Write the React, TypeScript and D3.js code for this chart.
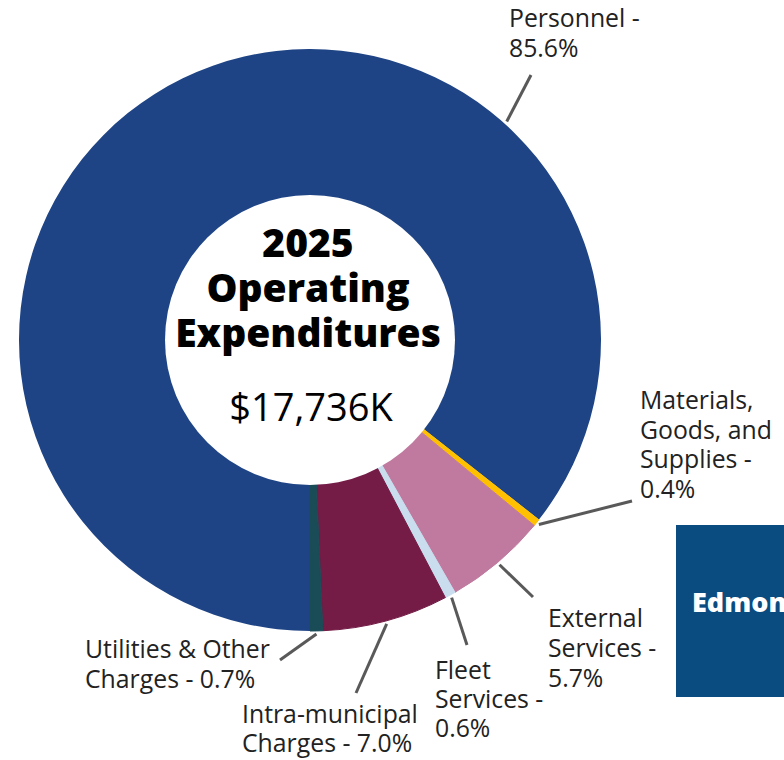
import React from "react";
import * as d3 from "d3";

const categories = [
  "Personnel",
  "Materials, Goods, and Supplies",
  "External Services",
  "Fleet Services",
  "Intra-municipal Charges",
  "Utilities & Other Charges",
];
const shares = [85.6, 0.4, 5.7, 0.6, 7.0, 0.7];
const labelLines = [
  ["Personnel -", "85.6%"],
  ["Materials,", "Goods, and", "Supplies -", "0.4%"],
  ["External", "Services -", "5.7%"],
  ["Fleet", "Services -", "0.6%"],
  ["Intra-municipal", "Charges - 7.0%"],
  ["Utilities & Other", "Charges - 0.7%"],
];
const colors = ["#1E4485", "#FFC000", "#C07A9F", "#C9DDEF", "#741B46", "#1A4C57"];
const titleLines = ["2025", "Operating", "Expenditures"];
const totalLabel = "$17,736K";

// layout (label text anchor, leader end, optional leader angle override in degrees)
const layout = [
  { x: 509, y: 27, lh: 30, ex: 531, ey: 75, angle: 42 },
  { x: 640, y: 409, lh: 29.5, ex: 632, ey: 501, angle: null },
  { x: 548, y: 627, lh: 30, ex: 533, ey: 597, angle: null },
  { x: 435, y: 679, lh: 29, ex: 467, ey: 645, angle: null },
  { x: 242, y: 723, lh: 29, ex: 356, ey: 693, angle: null },
  { x: 85, y: 658, lh: 30, ex: 280, ey: 660, angle: null },
];

const W = 784;
const H = 760;
const cx = 310;
const cy = 340;
const R = 291;
const r0 = 145;

export default function App() {
  const pie = d3
    .pie<number>()
    .sort(null)
    .startAngle(Math.PI)
    .endAngle(3 * Math.PI)
    .value((d) => d);
  const arcs = pie(shares);
  const arc = d3.arc<d3.PieArcDatum<number>>().innerRadius(r0 - 1).outerRadius(R);
  const font = "'Open Sans', 'Noto Sans', sans-serif";

  return (
    <svg
      width={W}
      height={H}
      style={{ position: "absolute", left: 0, top: 0, background: "#fff" }}
      fontFamily={font}
    >
      <defs>
        <clipPath id="logoClip">
          <rect x={676} y={525} width={108} height={172} />
        </clipPath>
      </defs>
      <g transform={`translate(${cx},${cy})`}>
        {arcs.map((a, i) => (
          <path
            key={categories[i]}
            d={arc(a) || ""}
            fill={colors[i]}
            stroke={i === 0 ? "none" : colors[i]}
            strokeWidth={1}
          />
        ))}
        <circle r={r0} fill="#fff" />
      </g>
      {arcs.map((a, i) => {
        const L = layout[i];
        const ang = L.angle != null ? (L.angle * Math.PI) / 180 : (a.startAngle + a.endAngle) / 2;
        const sx = cx + (R + 3) * Math.sin(ang);
        const sy = cy - (R + 3) * Math.cos(ang);
        return (
          <g key={"lbl" + i}>
            <line x1={sx} y1={sy} x2={L.ex} y2={L.ey} stroke="#595959" strokeWidth={3} />
            <text x={L.x} y={L.y} fontSize={24.8} fill="#222">
              {labelLines[i].map((t, j) => (
                <tspan key={j} x={L.x} y={L.y + j * L.lh}>
                  {t}
                </tspan>
              ))}
            </text>
          </g>
        );
      })}
      <g textAnchor="middle" fill="#000">
        {titleLines.map((t, i) => (
          <text key={t} x={308} y={257 + i * 45} fontSize={39} fontWeight={800}>
            {t}
          </text>
        ))}
        <text x={311} y={421} fontSize={38} fontWeight={400}>
          {totalLabel}
        </text>
      </g>
      <g clipPath="url(#logoClip)">
        <rect x={676} y={525} width={120} height={172} fill="#0A4B80" />
        <text x={692} y={612} fontSize={27} fontWeight={800} fill="#fff">
          Edmonton
        </text>
      </g>
    </svg>
  );
}
